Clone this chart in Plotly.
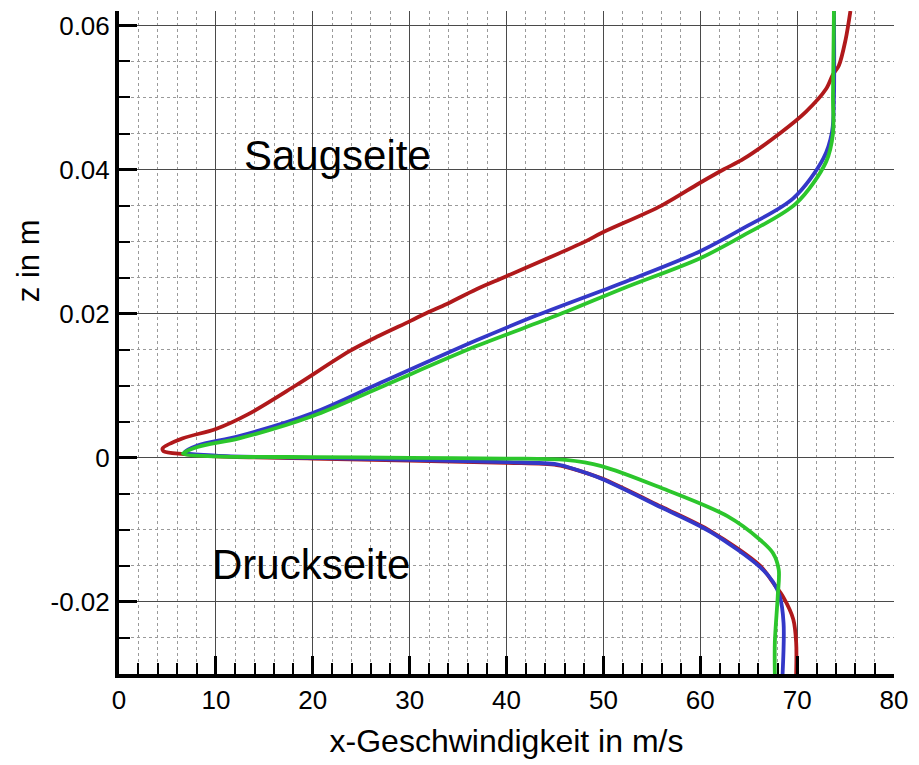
import plotly.graph_objects as go

# Velocity profiles u(z) across the wake; each profile runs from the top
# (suction side) through the trailing-edge nose down to the pressure side.
red_u = [75.5, 75.0, 74.3, 73.7, 73.0, 70.9, 68.2, 64.5, 62.4, 59.9, 56.0, 49.8,
         48.1, 40.0, 36.9, 33.6, 31.6, 30.1, 26.8, 23.8, 18.2, 13.4, 10.0, 6.6,
         4.5, 4.6, 6.7, 10.0, 20.0, 30.0, 40.0, 45.2, 47.3, 49.8, 56.0, 61.1,
         66.2, 67.5, 68.6, 69.6, 69.9, 69.9]
red_z = [0.062, 0.058, 0.0544, 0.0532, 0.0512, 0.048, 0.045, 0.0415, 0.040,
         0.0381, 0.035, 0.0312, 0.030, 0.0252, 0.0234, 0.0212, 0.020, 0.019,
         0.0169, 0.0148, 0.010, 0.0061, 0.0040, 0.0027, 0.0013, 0.0009, 0.0005,
         0.0002, -0.0001, -0.0004, -0.0007, -0.0010, -0.0017, -0.00285,
         -0.0068, -0.0102, -0.015, -0.0173, -0.0194, -0.0224, -0.0256, -0.030]

blue_u = [73.8, 73.8, 73.6, 72.7, 69.6, 64.5, 59.9, 52.0, 43.0, 36.9, 27.0,
          20.0, 12.4, 8.1, 6.8, 10.0, 20.0, 30.0, 40.0, 45.2, 47.3, 49.8,
          56.0, 61.1, 66.2, 67.5, 68.2, 68.6, 68.5]
blue_z = [0.062, 0.050, 0.0452, 0.0415, 0.036, 0.0319, 0.0286, 0.0243, 0.0197,
          0.0163, 0.0104, 0.0062, 0.0030, 0.0017, 0.0008, 0.0003, 0.0, -0.0003,
          -0.0006, -0.0009, -0.0017, -0.0029, -0.0069, -0.0103, -0.0152,
          -0.0172, -0.0192, -0.0229, -0.030]

green_u = [73.8, 73.7, 73.7, 73.0, 69.9, 64.5, 60.0, 52.2, 45.1, 36.9, 27.0,
           20.0, 12.4, 8.1, 6.6, 10.0, 20.0, 30.0, 40.0, 46.1, 49.8, 56.0, 62.8,
           66.2, 67.5, 68.1, 68.0, 67.7, 67.7]
green_z = [0.062, 0.050, 0.045, 0.0411, 0.0353, 0.0309, 0.0277, 0.0236, 0.0197,
           0.0155, 0.0098, 0.0058, 0.0027, 0.0015, 0.0006, 0.0002, 0.0001, 0.0,
           -0.0001, -0.0003, -0.00115, -0.0042, -0.0081, -0.0114, -0.0132,
           -0.0155, -0.0192, -0.0256, -0.030]

series = [
    (red_u, red_z, "#b0191b"),
    (blue_u, blue_z, "#3438c8"),
    (green_u, green_z, "#2cc62c"),
]

FONT = "Liberation Sans, Arial, Helvetica, sans-serif"

fig = go.Figure()
for u, z, col in series:
    fig.add_trace(go.Scatter(
        x=u, y=z, mode="lines",
        line=dict(color=col, width=3.8, shape="spline", smoothing=0.9),
        showlegend=False, hoverinfo="skip",
    ))

axis_common = dict(
    showline=True, linecolor="black", linewidth=4,
    ticks="inside", tickcolor="black", ticklen=18, tickwidth=3,
    showgrid=True, gridcolor="#4a4a4a", gridwidth=1.2,
    zeroline=False, mirror=False,
    tickfont=dict(family=FONT, size=26, color="black"),
)

fig.update_xaxes(
    range=[0, 80], tick0=0, dtick=10,
    minor=dict(tick0=0, dtick=2, ticks="inside", ticklen=11, tickwidth=1.5,
               tickcolor="black", showgrid=True, gridcolor="#9a9a9a",
               griddash="dot", gridwidth=1),
    title=dict(text="x-Geschwindigkeit in m/s",
               font=dict(family=FONT, size=32, color="black"), standoff=16),
    **axis_common,
)
fig.update_yaxes(
    range=[-0.03, 0.062], tick0=0, dtick=0.02,
    tickvals=[-0.02, 0, 0.02, 0.04, 0.06],
    ticktext=["-0.02", "0", "0.02", "0.04", "0.06"],
    minor=dict(tick0=0, dtick=0.005, ticks="inside", ticklen=11, tickwidth=1.5,
               tickcolor="black", showgrid=True, gridcolor="#9a9a9a",
               griddash="dot", gridwidth=1),
    **axis_common,
)

fig.add_annotation(text="Saugseite", xref="paper", yref="y", x=0.282,
                   y=0.0419, xanchor="center", yanchor="middle",
                   showarrow=False,
                   font=dict(family=FONT, size=42, color="black"))
fig.add_annotation(text="Druckseite", xref="paper", yref="y", x=0.248,
                   y=-0.0148, xanchor="center", yanchor="middle",
                   showarrow=False,
                   font=dict(family=FONT, size=42, color="black"))
fig.add_annotation(text="z in m", xref="paper", yref="paper", x=-0.1175,
                   y=0.624, xanchor="center", yanchor="middle",
                   textangle=-90, showarrow=False,
                   font=dict(family=FONT, size=31, color="black"))

fig.update_layout(
    width=919, height=765,
    margin=dict(l=119, r=17, t=11, b=87),
    paper_bgcolor="white", plot_bgcolor="white",
)

fig.write_html("out.html")
